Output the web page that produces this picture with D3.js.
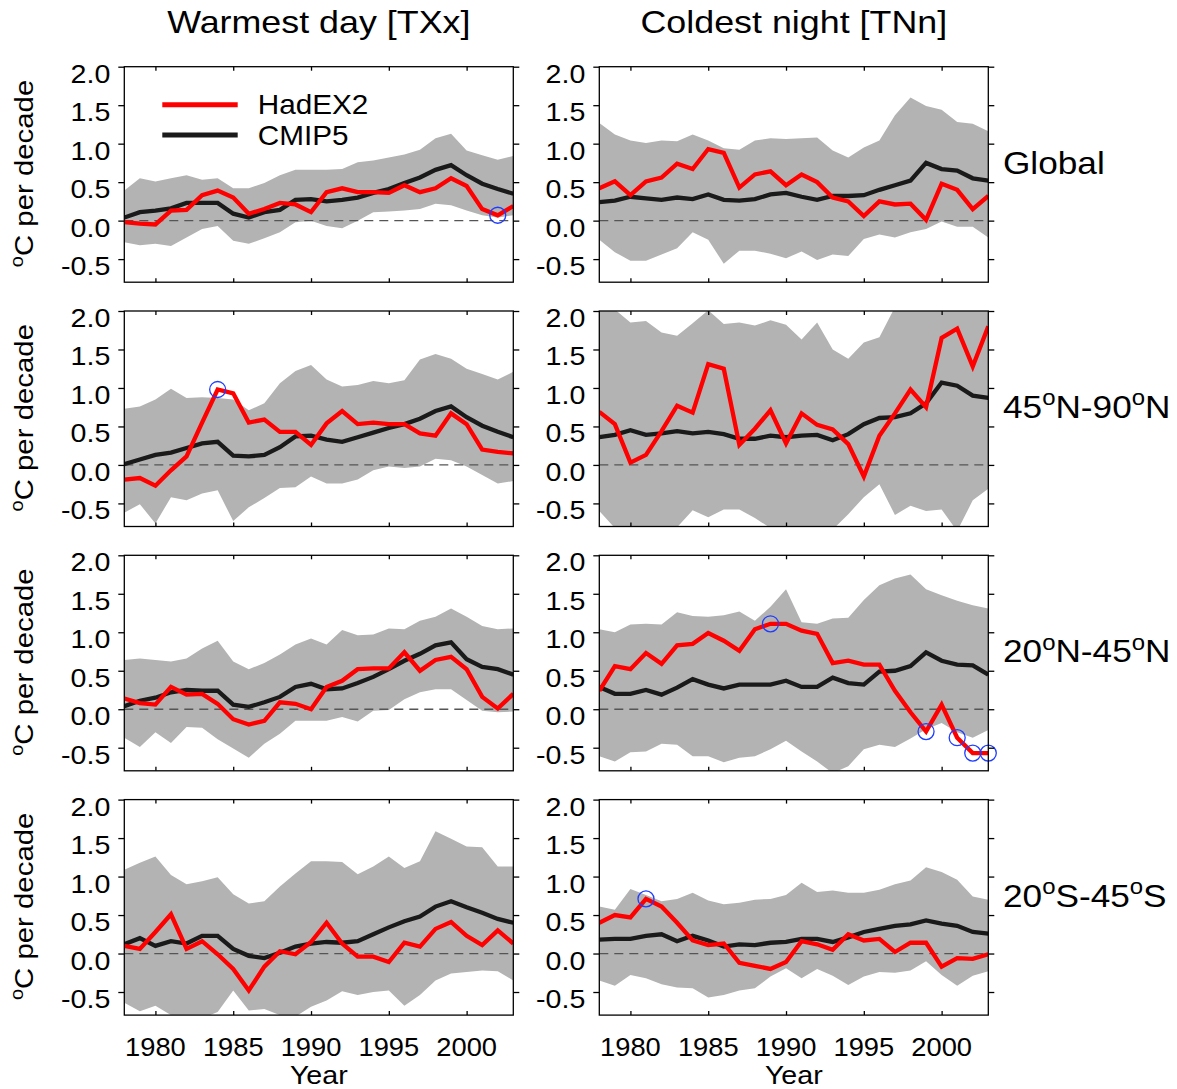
<!DOCTYPE html>
<html>
<head>
<meta charset="utf-8">
<script src="https://cdn.jsdelivr.net/npm/d3@7"></script>
<style>
  body { margin: 0; background: #fff; }
  text { font-family: "Liberation Sans", Arial, Helvetica, sans-serif; fill: #000; }
</style>
</head>
<body>
<svg id="chart" width="1177" height="1089"></svg>
<script>
const years = [1978,1979,1980,1981,1982,1983,1984,1985,1986,1987,1988,1989,1990,
               1991,1992,1993,1994,1995,1996,1997,1998,1999,2000,2001,2002,2003];
const xTicks = [1980, 1985, 1990, 1995, 2000];
const yTicks = [-0.5, 0.0, 0.5, 1.0, 1.5, 2.0];

const colTitles = ["Warmest day [TXx]", "Coldest night [TNn]"];
// row labels, pieces flagged true are superscript
const rowLabels = [
  [["Global", false]],
  [["45", false], ["o", true], ["N-90", false], ["o", true], ["N", false]],
  [["20", false], ["o", true], ["N-45", false], ["o", true], ["N", false]],
  [["20", false], ["o", true], ["S-45", false], ["o", true], ["S", false]]
];
const seriesNames = ["HadEX2", "CMIP5"];

// Global
const txxGlobalHad  = [-0.02,-0.04,-0.05,0.13,0.14,0.33,0.39,0.30,0.09,0.15,0.23,0.21,0.11,0.37,0.42,0.37,0.37,0.36,0.46,0.37,0.42,0.55,0.45,0.15,0.07,0.19];
const txxGlobalCmip = [0.04,0.11,0.13,0.16,0.23,0.23,0.23,0.09,0.04,0.11,0.14,0.27,0.28,0.25,0.27,0.30,0.36,0.41,0.49,0.56,0.66,0.72,0.59,0.48,0.41,0.35];
const txxGlobalHi   = [0.39,0.55,0.51,0.55,0.59,0.53,0.55,0.42,0.42,0.49,0.59,0.66,0.66,0.66,0.67,0.76,0.78,0.82,0.86,0.92,1.07,1.13,0.91,0.85,0.79,0.84];
const txxGlobalLo   = [-0.28,-0.32,-0.30,-0.33,-0.22,-0.11,-0.07,-0.26,-0.30,-0.23,-0.15,-0.02,0.0,-0.07,-0.10,0.0,0.11,0.12,0.13,0.15,0.22,0.20,0.13,0.07,0.04,0.07];

const tnnGlobalHad  = [0.42,0.51,0.33,0.51,0.56,0.74,0.67,0.93,0.88,0.43,0.60,0.64,0.46,0.60,0.50,0.30,0.25,0.06,0.25,0.21,0.22,0.01,0.48,0.40,0.15,0.32];
const tnnGlobalCmip = [0.24,0.26,0.31,0.29,0.27,0.30,0.28,0.34,0.27,0.26,0.28,0.34,0.36,0.31,0.27,0.32,0.32,0.33,0.40,0.46,0.52,0.75,0.67,0.65,0.55,0.52];
const tnnGlobalHi   = [1.27,1.12,1.04,1.01,1.04,1.03,1.12,1.04,0.94,0.92,1.04,1.07,1.06,1.07,1.08,0.91,0.82,0.95,1.04,1.37,1.60,1.49,1.44,1.28,1.26,1.16];
const tnnGlobalLo   = [-0.25,-0.41,-0.52,-0.52,-0.44,-0.36,-0.15,-0.25,-0.56,-0.39,-0.39,-0.43,-0.49,-0.40,-0.51,-0.44,-0.46,-0.24,-0.18,-0.22,-0.15,-0.11,-0.01,-0.08,-0.08,-0.22];

// 45N-90N
const txxNorthHad  = [-0.19,-0.17,-0.27,-0.07,0.11,0.55,0.98,0.93,0.55,0.59,0.43,0.43,0.26,0.54,0.70,0.53,0.55,0.53,0.53,0.41,0.38,0.67,0.53,0.20,0.17,0.15];
const txxNorthCmip = [0.01,0.07,0.13,0.16,0.22,0.28,0.30,0.12,0.11,0.13,0.23,0.37,0.38,0.33,0.30,0.36,0.42,0.48,0.53,0.60,0.70,0.76,0.62,0.51,0.43,0.36];
const txxNorthHi   = [0.73,0.76,0.85,0.99,0.87,0.88,0.87,0.85,0.71,0.80,1.06,1.22,1.30,1.11,1.02,1.04,1.09,1.06,1.10,1.37,1.44,1.38,1.25,1.18,1.11,1.21];
const txxNorthLo   = [-0.62,-0.51,-0.76,-0.42,-0.46,-0.37,-0.33,-0.73,-0.55,-0.43,-0.30,-0.29,-0.15,-0.24,-0.24,-0.19,-0.07,-0.02,-0.04,-0.02,0.08,0.06,-0.02,-0.13,-0.24,-0.21];

const tnnNorthHad  = [0.69,0.53,0.03,0.13,0.44,0.77,0.68,1.31,1.25,0.26,0.47,0.71,0.28,0.67,0.52,0.46,0.27,-0.15,0.38,0.67,0.98,0.75,1.65,1.77,1.28,1.80];
const tnnNorthCmip = [0.36,0.39,0.45,0.39,0.41,0.44,0.41,0.43,0.40,0.34,0.34,0.38,0.36,0.38,0.39,0.32,0.40,0.53,0.61,0.62,0.67,0.80,1.07,1.03,0.90,0.87];
const tnnNorthHi   = [2.05,2.02,1.85,1.87,1.72,1.68,1.84,2.01,1.83,1.85,1.81,1.88,1.82,1.63,1.85,1.50,1.38,1.59,1.66,2.05,2.2,2.3,2.3,2.25,2.2,2.15];
const tnnNorthLo   = [-0.60,-0.82,-0.9,-0.9,-0.85,-0.81,-0.59,-0.68,-0.58,-0.58,-0.69,-0.82,-0.95,-0.95,-0.9,-0.84,-0.64,-0.42,-0.25,-0.65,-0.53,-0.60,-0.58,-0.86,-0.46,-0.31];

// 20N-45N
const txxSubNHad  = [0.14,0.08,0.06,0.29,0.19,0.20,0.07,-0.13,-0.20,-0.15,0.09,0.07,0.0,0.29,0.37,0.52,0.53,0.53,0.74,0.50,0.64,0.68,0.52,0.16,0.01,0.20];
const txxSubNCmip = [0.04,0.11,0.15,0.22,0.25,0.24,0.24,0.06,0.03,0.09,0.16,0.29,0.33,0.26,0.27,0.34,0.42,0.52,0.63,0.72,0.83,0.87,0.65,0.55,0.52,0.45];
const txxSubNHi   = [0.64,0.66,0.64,0.62,0.66,0.79,0.89,0.62,0.52,0.60,0.71,0.84,0.92,0.84,1.03,0.96,0.97,1.05,1.04,1.15,1.20,1.31,1.20,1.08,1.04,1.05];
const txxSubNLo   = [-0.37,-0.49,-0.30,-0.44,-0.23,-0.24,-0.39,-0.51,-0.63,-0.45,-0.32,-0.15,-0.15,-0.15,-0.10,-0.16,-0.02,-0.01,0.13,0.22,0.26,0.26,0.12,-0.02,-0.04,-0.03];

const tnnSubNHad  = [0.24,0.56,0.52,0.73,0.59,0.83,0.85,0.99,0.89,0.76,1.04,1.11,1.11,1.02,0.98,0.60,0.63,0.58,0.58,0.24,-0.04,-0.29,0.06,-0.37,-0.57,-0.57];
const tnnSubNCmip = [0.29,0.20,0.20,0.25,0.19,0.28,0.39,0.32,0.27,0.32,0.32,0.32,0.37,0.29,0.29,0.41,0.34,0.32,0.49,0.50,0.56,0.74,0.63,0.58,0.57,0.45];
const tnnSubNHi   = [1.04,1.00,1.10,1.11,1.10,1.26,1.21,1.20,1.22,1.27,1.15,1.33,1.56,1.13,1.11,1.18,1.19,1.42,1.61,1.70,1.75,1.56,1.48,1.41,1.35,1.31];
const tnnSubNLo   = [-0.61,-0.68,-0.56,-0.55,-0.45,-0.46,-0.61,-0.61,-0.69,-0.63,-0.61,-0.52,-0.41,-0.55,-0.68,-0.83,-0.74,-0.52,-0.46,-0.49,-0.38,-0.26,-0.18,-0.30,-0.37,-0.27];

// 20S-45S
const txxSubSHad  = [0.10,0.06,0.28,0.51,0.06,0.16,-0.01,-0.20,-0.48,-0.17,0.03,-0.01,0.15,0.40,0.13,-0.04,-0.04,-0.11,0.14,0.09,0.32,0.41,0.23,0.11,0.30,0.13];
const txxSubSCmip = [0.12,0.20,0.10,0.16,0.13,0.23,0.23,0.06,-0.03,-0.06,0.01,0.09,0.13,0.15,0.14,0.16,0.25,0.34,0.42,0.48,0.61,0.68,0.60,0.53,0.45,0.40];
const txxSubSHi   = [1.09,1.18,1.26,1.02,0.90,0.94,0.99,0.77,0.65,0.68,0.87,1.04,1.20,1.20,1.19,1.03,1.13,1.26,1.11,1.20,1.59,1.49,1.39,1.38,1.13,1.13];
const txxSubSLo   = [-0.64,-0.75,-0.68,-0.80,-0.86,-0.84,-0.76,-0.48,-0.74,-0.72,-0.80,-0.82,-0.69,-0.61,-0.49,-0.54,-0.50,-0.48,-0.68,-0.54,-0.35,-0.26,-0.24,-0.22,-0.23,-0.35];

const tnnSubSHad  = [0.40,0.50,0.47,0.71,0.61,0.40,0.17,0.11,0.13,-0.12,-0.16,-0.20,-0.11,0.16,0.12,0.05,0.25,0.17,0.19,0.02,0.14,0.14,-0.17,-0.06,-0.07,-0.01];
const tnnSubSCmip = [0.18,0.19,0.19,0.23,0.25,0.16,0.23,0.17,0.09,0.12,0.11,0.14,0.15,0.19,0.19,0.15,0.21,0.28,0.32,0.36,0.38,0.43,0.39,0.36,0.28,0.26];
const tnnSubSHi   = [0.61,0.57,0.84,0.76,0.68,0.71,0.79,0.69,0.64,0.66,0.70,0.71,0.76,0.92,0.80,0.82,0.79,0.79,0.83,0.90,0.95,1.12,1.06,0.96,0.74,0.70];
const tnnSubSLo   = [-0.35,-0.42,-0.28,-0.32,-0.40,-0.44,-0.45,-0.57,-0.54,-0.48,-0.45,-0.30,-0.19,-0.32,-0.20,-0.29,-0.41,-0.30,-0.24,-0.25,-0.22,-0.10,-0.28,-0.42,-0.29,-0.23];

// years that get a blue circle on the HadEX2 line
const circlesTxxGlobal = [2002];
const circlesTxxNorth = [1984];
const circlesTnnSubN = [1989, 1999, 2001, 2002, 2003];
const circlesTnnSubS = [1981];

const panels = [
  {col: 0, row: 0, had: txxGlobalHad, cmip: txxGlobalCmip, hi: txxGlobalHi, lo: txxGlobalLo, circles: circlesTxxGlobal},
  {col: 1, row: 0, had: tnnGlobalHad, cmip: tnnGlobalCmip, hi: tnnGlobalHi, lo: tnnGlobalLo, circles: []},
  {col: 0, row: 1, had: txxNorthHad, cmip: txxNorthCmip, hi: txxNorthHi, lo: txxNorthLo, circles: circlesTxxNorth},
  {col: 1, row: 1, had: tnnNorthHad, cmip: tnnNorthCmip, hi: tnnNorthHi, lo: tnnNorthLo, circles: []},
  {col: 0, row: 2, had: txxSubNHad, cmip: txxSubNCmip, hi: txxSubNHi, lo: txxSubNLo, circles: []},
  {col: 1, row: 2, had: tnnSubNHad, cmip: tnnSubNCmip, hi: tnnSubNHi, lo: tnnSubNLo, circles: circlesTnnSubN},
  {col: 0, row: 3, had: txxSubSHad, cmip: txxSubSCmip, hi: txxSubSHi, lo: txxSubSLo, circles: []},
  {col: 1, row: 3, had: tnnSubSHad, cmip: tnnSubSCmip, hi: tnnSubSHi, lo: tnnSubSLo, circles: circlesTnnSubS}
];

const colLeft = [124.3, 599.3];
const rowTop = [66.7, 311, 555.3, 799.6];
const panelW = 389;
const panelH = 215.5;

const svg = d3.select("#chart");

const x = d3.scaleLinear().domain([1978, 2003]).range([0, panelW]);
const y = d3.scaleLinear().domain([-0.8, 2.0]).range([panelH, 0]);

// text with optional superscript pieces, widened along its own direction
const addText = (parent, tx, ty, anchor, size, stretch, parts, rotate) => {
    const t = parent.append("text")
        .attr("transform", `translate(${tx},${ty})${rotate ? " rotate(-90)" : ""} scale(${stretch},1)`)
        .attr("text-anchor", anchor)
        .attr("font-size", size);
    let up = false;
    parts.forEach(([str, sup]) => {
        const span = t.append("tspan").text(str);
        if (sup && !up) span.attr("dy", -size * 0.4).attr("font-size", size * 0.68);
        if (sup && up) span.attr("font-size", size * 0.68);
        if (!sup && up) span.attr("dy", size * 0.4);
        up = sup;
    });
    return t;
};

const area = d3.area()
    .x((d, i) => x(years[i]))
    .y0(d => y(d[0]))
    .y1(d => y(d[1]));

const line = d3.line()
    .x((d, i) => x(years[i]))
    .y(d => y(d));

panels.forEach((p, k) => {
    const g = svg.append("g")
        .attr("transform", `translate(${colLeft[p.col]},${rowTop[p.row]})`);

    g.append("clipPath").attr("id", "clip" + k)
        .append("rect").attr("width", panelW).attr("height", panelH);

    const plot = g.append("g").attr("clip-path", `url(#clip${k})`);

    plot.append("path")
        .datum(p.lo.map((v, i) => [v, p.hi[i]]))
        .attr("fill", "#b3b3b3")
        .attr("d", area);

    plot.append("line")
        .attr("x1", 0).attr("x2", panelW)
        .attr("y1", y(0)).attr("y2", y(0))
        .attr("stroke", "#555")
        .attr("stroke-width", 1.3)
        .attr("stroke-dasharray", "9 6");

    plot.append("path")
        .datum(p.cmip)
        .attr("fill", "none")
        .attr("stroke", "#1a1a1a")
        .attr("stroke-width", 4.3)
        .attr("d", line);

    plot.append("path")
        .datum(p.had)
        .attr("fill", "none")
        .attr("stroke", "#ff0000")
        .attr("stroke-width", 4.3)
        .attr("d", line);

    g.selectAll(".mark")
        .data(p.circles)
        .join("circle")
        .attr("class", "mark")
        .attr("cx", d => x(d))
        .attr("cy", d => y(p.had[years.indexOf(d)]))
        .attr("r", 8)
        .attr("fill", "none")
        .attr("stroke", "#1f3dff")
        .attr("stroke-width", 1.3);

    // ticks: x inward, y outward
    g.append("g").attr("transform", `translate(0,${panelH})`)
        .call(d3.axisBottom(x).tickValues(xTicks).tickSize(-4).tickFormat(""));
    g.append("g")
        .call(d3.axisTop(x).tickValues(xTicks).tickSize(-4).tickFormat(""));
    g.append("g")
        .call(d3.axisLeft(y).tickValues(yTicks).tickSize(6).tickFormat(""));
    g.append("g").attr("transform", `translate(${panelW},0)`)
        .call(d3.axisRight(y).tickValues(yTicks).tickSize(6).tickFormat(""));
    g.selectAll(".domain").remove();
    g.selectAll(".tick line").attr("stroke", "#000").attr("stroke-width", 1.3);

    g.append("rect")
        .attr("width", panelW).attr("height", panelH)
        .attr("fill", "none")
        .attr("stroke", "#000")
        .attr("stroke-width", 1.3);

    yTicks.forEach(v => {
        addText(g, -14, y(v) + 16, "end", 26, 1.1, [[v.toFixed(1), false]]);
    });

    if (p.row === 3) {
        xTicks.forEach(v => {
            addText(g, x(v), panelH + 41, "middle", 26, 1.05, [[String(v), false]]);
        });
        addText(g, panelW / 2, panelH + 68.5, "middle", 26, 1.1, [["Year", false]]);
    }

    if (p.col === 0) {
        addText(svg, 33, rowTop[p.row] + panelH / 2 - 1, "middle", 26, 1.13,
            [["o", true], ["C per decade", false]], true);
    }
    if (p.col === 1) {
        addText(svg, 1003, rowTop[p.row] + 107, "start", 32, 1.1, rowLabels[p.row]);
    }
    if (p.row === 0) {
        addText(svg, colLeft[p.col] + panelW / 2, 32.7, "middle", 32, 1.12, [[colTitles[p.col], false]]);
    }

    // legend in the first panel
    if (k === 0) {
        const colors = ["#ff0000", "#1a1a1a"];
        seriesNames.forEach((name, i) => {
            const ly = 38 + i * 30.3;
            g.append("line")
                .attr("x1", 38).attr("x2", 113.4)
                .attr("y1", ly).attr("y2", ly)
                .attr("stroke", colors[i])
                .attr("stroke-width", 5);
            addText(g, 133.4, ly + 9.5, "start", 27, 1.1, [[name, false]]);
        });
    }
});
</script>
</body>
</html>
